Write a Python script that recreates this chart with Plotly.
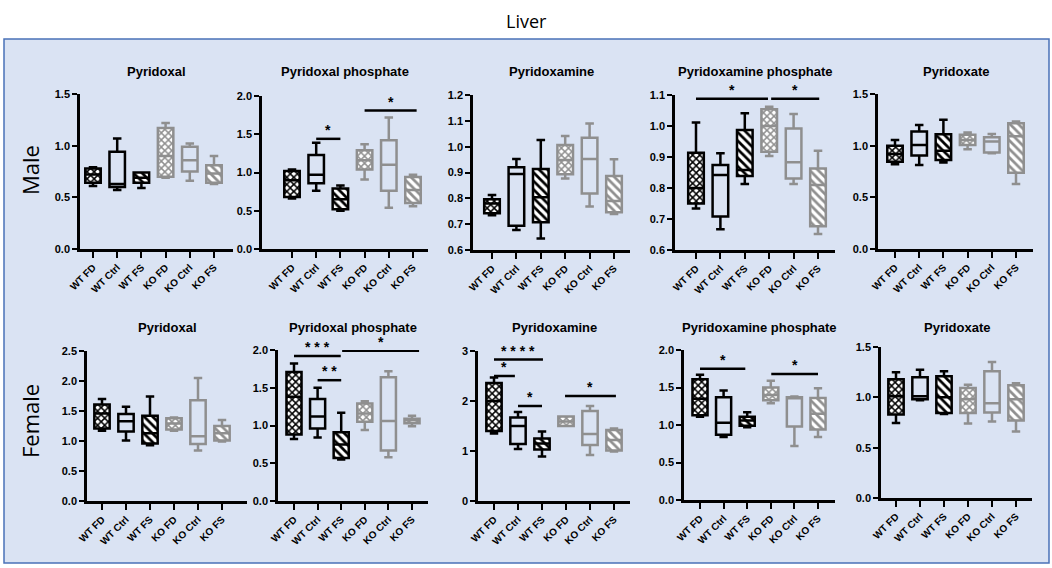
import plotly.graph_objects as go

W, H = 1052, 568

groups = ["WT FD", "WT Ctrl", "WT FS", "KO FD", "KO Ctrl", "KO FS"]

# ── box statistics (min, q1, median, q3, max) ────────────────────────────────
male_pl = dict(lo=[0.61, 0.57, 0.59, 0.69, 0.66, 0.63],
               q1=[0.64, 0.60, 0.64, 0.70, 0.75, 0.64],
               med=[0.72, 0.63, 0.69, 0.90, 0.86, 0.73],
               q3=[0.78, 0.94, 0.74, 1.17, 0.99, 0.81],
               hi=[0.79, 1.07, 0.74, 1.22, 1.02, 0.90])
male_plp = dict(lo=[0.66, 0.76, 0.50, 0.91, 0.54, 0.56],
                q1=[0.68, 0.86, 0.52, 1.04, 0.76, 0.60],
                med=[0.90, 0.97, 0.65, 1.16, 1.10, 0.77],
                q3=[1.02, 1.23, 0.79, 1.29, 1.42, 0.94],
                hi=[1.04, 1.39, 0.83, 1.37, 1.72, 0.97])
male_pm = dict(lo=[0.735, 0.677, 0.645, 0.877, 0.768, 0.739],
               q1=[0.742, 0.694, 0.707, 0.893, 0.819, 0.746],
               med=[0.78, 0.894, 0.804, 0.948, 0.952, 0.79],
               q3=[0.796, 0.92, 0.914, 1.006, 1.035, 0.886],
               hi=[0.813, 0.952, 1.026, 1.041, 1.09, 0.951])
male_pmp = dict(lo=[0.734, 0.667, 0.813, 0.903, 0.813, 0.652],
                q1=[0.75, 0.708, 0.839, 0.917, 0.831, 0.677],
                med=[0.80, 0.842, 0.858, 1.0, 0.883, 0.81],
                q3=[0.914, 0.874, 0.987, 1.054, 0.992, 0.863],
                hi=[1.011, 0.912, 1.041, 1.062, 1.039, 0.92])
male_pa = dict(lo=[0.82, 0.813, 0.836, 0.965, 0.926, 0.628],
               q1=[0.845, 0.904, 0.862, 1.007, 0.933, 0.739],
               med=[0.92, 1.007, 0.95, 1.056, 1.04, 1.09],
               q3=[1.0, 1.137, 1.11, 1.105, 1.082, 1.218],
               hi=[1.056, 1.20, 1.25, 1.127, 1.114, 1.234])

female_pl = dict(lo=[1.17, 1.01, 0.93, 1.17, 0.84, 0.99],
                 q1=[1.21, 1.16, 0.96, 1.19, 0.95, 1.01],
                 med=[1.46, 1.33, 1.13, 1.29, 1.08, 1.13],
                 q3=[1.61, 1.45, 1.42, 1.38, 1.68, 1.25],
                 hi=[1.70, 1.57, 1.74, 1.39, 2.05, 1.35])
female_plp = dict(lo=[0.82, 0.84, 0.55, 0.94, 0.58, 0.99],
                  q1=[0.88, 0.96, 0.57, 1.05, 0.67, 1.03],
                  med=[1.38, 1.12, 0.75, 1.16, 1.06, 1.07],
                  q3=[1.71, 1.35, 0.91, 1.29, 1.64, 1.09],
                  hi=[1.82, 1.50, 1.17, 1.32, 1.72, 1.13])
female_pm = dict(lo=[1.35, 1.04, 0.89, 1.50, 0.92, 0.99],
                 q1=[1.40, 1.14, 1.03, 1.50, 1.12, 1.01],
                 med=[2.0, 1.50, 1.15, 1.59, 1.34, 1.22],
                 q3=[2.36, 1.67, 1.25, 1.69, 1.80, 1.42],
                 hi=[2.47, 1.78, 1.39, 1.69, 1.90, 1.45])
female_pmp = dict(lo=[1.11, 0.84, 0.97, 1.29, 0.72, 0.84],
                  q1=[1.13, 0.87, 0.99, 1.33, 0.98, 0.94],
                  med=[1.35, 1.03, 1.06, 1.40, 1.36, 1.15],
                  q3=[1.61, 1.37, 1.11, 1.50, 1.37, 1.36],
                  hi=[1.67, 1.46, 1.17, 1.59, 1.38, 1.49])
female_pa = dict(lo=[0.745, 0.97, 0.835, 0.74, 0.76, 0.66],
                 q1=[0.83, 0.98, 0.845, 0.845, 0.85, 0.77],
                 med=[1.01, 1.01, 1.0, 0.98, 0.94, 0.98],
                 q3=[1.18, 1.20, 1.21, 1.093, 1.26, 1.12],
                 hi=[1.25, 1.275, 1.26, 1.126, 1.35, 1.14])

# significance bars: (from group, to group, height, label)
sig_male_plp = [(1, 2, 1.44, "*"), (3, 5.15, 1.81, "*")]
sig_male_pmp = [(0, 2.95, 1.088, "*"), (3.08, 5.05, 1.088, "*")]
sig_female_plp = [(0, 1.98, 1.92, "***"), (1, 2, 1.60, "**"), (2.04, 5.3, 1.99, "*")]
sig_female_pm = [(0, 2.04, 2.83, "****"), (0, 0.87, 2.50, "*"),
                 (1, 2, 1.90, "*"), (2.96, 5.08, 2.10, "*")]
sig_female_pmp = [(0, 1.92, 1.75, "*"), (3.02, 5, 1.68, "*")]

# ── panel layout: title, data, sig, y range, dtick, fmt, pixel geometry ──────
# geometry = (y-axis x, first tick x, last tick x, axis end x, bottom y, top y, title y)
panels = [
    ("Pyridoxal", male_pl, [], 0, 1.5, 0.5, ".1f", (80, 93, 214, 233, 249, 94, 71)),
    ("Pyridoxal phosphate", male_plp, sig_male_plp, 0, 2.0, 0.5, ".1f", (262, 292, 413, 428, 249, 96, 71)),
    ("Pyridoxamine", male_pm, [], 0.6, 1.2, 0.1, ".1f", (473, 492, 614, 630, 250, 95, 71)),
    ("Pyridoxamine phosphate", male_pmp, sig_male_pmp, 0.6, 1.1, 0.1, ".1f", (675, 696, 818, 835, 250, 95, 71)),
    ("Pyridoxate", male_pa, [], 0, 1.5, 0.5, ".1f", (878, 895, 1016, 1033, 249, 94, 71)),
    ("Pyridoxal", female_pl, [], 0, 2.5, 0.5, ".1f", (87, 102, 222, 247, 501, 351, 327)),
    ("Pyridoxal phosphate", female_plp, sig_female_plp, 0, 2.0, 0.5, ".1f", (278, 294, 412, 428, 501, 350, 327)),
    ("Pyridoxamine", female_pm, sig_female_pm, 0, 3, 1, "d", (478, 494, 614, 630, 501, 351, 327)),
    ("Pyridoxamine phosphate", female_pmp, sig_female_pmp, 0, 2.0, 0.5, ".1f", (684, 700, 818, 835, 500, 350, 327)),
    ("Pyridoxate", female_pa, [], 0, 1.5, 0.5, ".1f", (881, 896, 1016, 1032, 498, 347, 327)),
]

WT_COL = "#000000"
KO_COL = "#8f8f8f"
FONT = "Liberation Sans"
BOX_W = 0.64

fill_styles = {"FD": dict(shape="x", size=5, solidity=0.5),
               "FS": dict(shape="\\", size=6, solidity=0.45)}

fig = go.Figure()
shapes = []
annotations = []
axes = {}

# blue frame
shapes.append(dict(type="rect", xref="paper", yref="paper", layer="below",
                   x0=4 / W, x1=1049 / W, y0=1 - 563 / H, y1=1 - 39 / H,
                   fillcolor="#dae3f3", line=dict(color="#4a72b8", width=1.5)))

for n, (title, d, sigs, ymin, ymax, dtick, fmt, geo) in enumerate(panels, start=1):
    ax_x, t0, t5, end_x, bot, top, title_y = geo
    sfx = "" if n == 1 else str(n)
    xr, yr = "x" + sfx, "y" + sfx
    step = (t5 - t0) / 5
    x_range = [(ax_x - t0) / step, 5 + (end_x - t5) / step]

    for i, g in enumerate(groups):
        col = WT_COL if g.startswith("WT") else KO_COL
        kind = g.split()[1]
        if kind in fill_styles:
            st = fill_styles[kind]
            fig.add_trace(go.Bar(
                x=[i], y=[d["q3"][i] - d["q1"][i]], base=[d["q1"][i]], width=BOX_W,
                xaxis=xr, yaxis=yr, showlegend=False, hoverinfo="skip",
                marker=dict(color="white", line=dict(width=0),
                            pattern=dict(shape=st["shape"], size=st["size"], solidity=st["solidity"],
                                         fgcolor=col, bgcolor="white", fillmode="replace"))))
        fig.add_trace(go.Box(
            x=[i], q1=[d["q1"][i]], median=[d["med"][i]], q3=[d["q3"][i]],
            lowerfence=[d["lo"][i]], upperfence=[d["hi"][i]],
            width=BOX_W, whiskerwidth=0.55, boxpoints=False,
            line=dict(color=col, width=2.5), fillcolor="rgba(0,0,0,0)",
            xaxis=xr, yaxis=yr, showlegend=False, name=g))

    axes["xaxis" + sfx] = dict(
        domain=[ax_x / W, end_x / W], range=x_range, anchor=yr, automargin=False,
        tickmode="array", tickvals=list(range(6)), ticktext=groups, tickangle=-45,
        showline=True, linecolor="black", linewidth=2.5, showgrid=False, zeroline=False,
        ticks="outside", ticklen=6, tickwidth=2, tickcolor="black",
        tickfont=dict(family=FONT, size=10, color="black", weight="bold"))
    axes["yaxis" + sfx] = dict(
        domain=[1 - bot / H, 1 - top / H], range=[ymin, ymax], anchor=xr, automargin=False,
        tick0=ymin, dtick=dtick, tickformat=fmt,
        showline=True, linecolor="black", linewidth=2.5, showgrid=False, zeroline=False,
        ticks="outside", ticklen=5, tickwidth=2, tickcolor="black",
        tickfont=dict(family=FONT, size=11, color="black", weight="bold"))

    annotations.append(dict(
        text=f"<b>{title}</b>", xref="paper", yref="paper",
        x=(ax_x + end_x) / 2 / W, y=1 - title_y / H, showarrow=False,
        xanchor="center", yanchor="middle", font=dict(family=FONT, size=13, color="black")))

    for x0, x1, y, lab in sigs:
        shapes.append(dict(type="line", xref=xr, yref=yr, x0=x0, x1=x1, y0=y, y1=y,
                           line=dict(color="black", width=2.5)))
        annotations.append(dict(text="<b>" + " ".join(lab) + "</b>", xref=xr, yref=yr,
                                x=(x0 + x1) / 2, y=y, showarrow=False,
                                xanchor="center", yanchor="bottom", yshift=-1,
                                font=dict(family=FONT, size=14, color="black")))

annotations.append(dict(text="Liver", xref="paper", yref="paper", x=526 / W, y=1 - 21 / H,
                        showarrow=False, xanchor="center", yanchor="middle",
                        font=dict(family="Open Sans", size=18, color="black")))
annotations.append(dict(text="Male", xref="paper", yref="paper", x=30 / W, y=1 - 170 / H,
                        showarrow=False, textangle=-90, xanchor="center", yanchor="middle",
                        font=dict(family="Open Sans", size=22, color="black")))
annotations.append(dict(text="Female", xref="paper", yref="paper", x=30 / W, y=1 - 421 / H,
                        showarrow=False, textangle=-90, xanchor="center", yanchor="middle",
                        font=dict(family="Open Sans", size=22, color="black")))

fig.update_layout(
    width=W, height=H, margin=dict(l=0, r=0, t=0, b=0, autoexpand=False),
    paper_bgcolor="white", plot_bgcolor="rgba(0,0,0,0)",
    barmode="overlay", boxmode="overlay", showlegend=False,
    shapes=shapes, annotations=annotations, **axes)

# drop the page's default body margin so the figure sits at the window origin
fig.write_html("out.html", config={"displayModeBar": False},
               post_script="document.body.style.margin = '0';")
